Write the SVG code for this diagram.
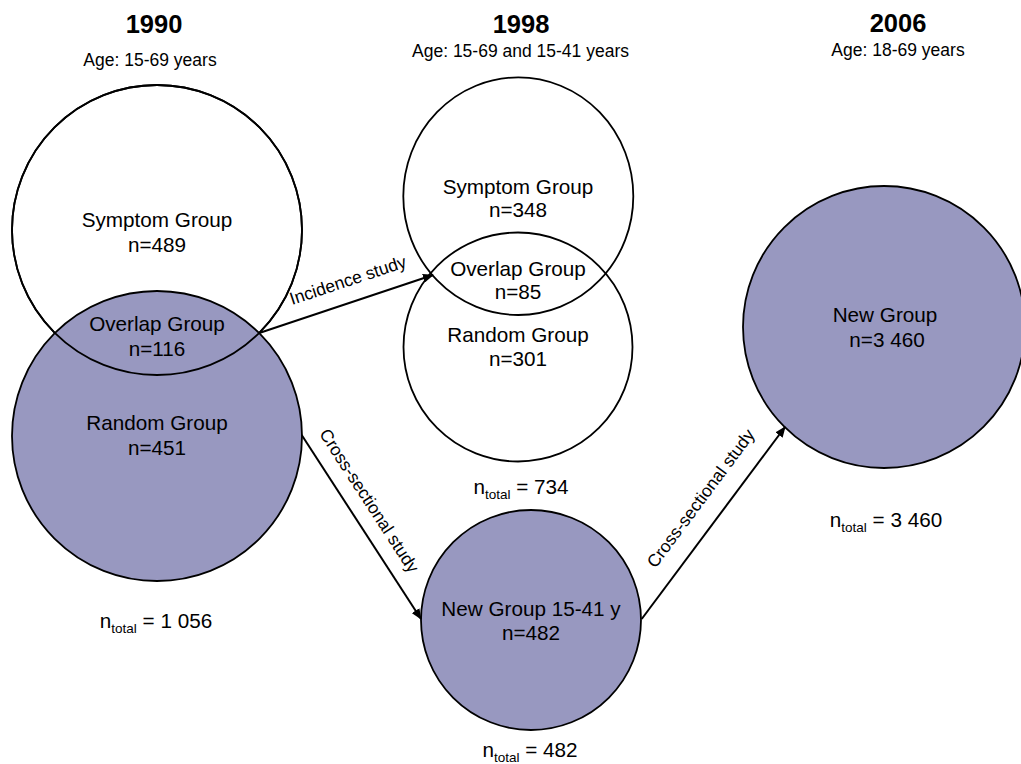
<svg xmlns="http://www.w3.org/2000/svg" width="1021" height="764" viewBox="0 0 1021 764">
<defs>
<style>
text{font-family:"Liberation Sans",Arial,sans-serif;fill:#000}
.yr{font-size:25.5px;font-weight:bold;text-anchor:middle}
.age{font-size:17.5px;text-anchor:middle}
.lbl{font-size:20.7px;text-anchor:middle}
.tot{font-size:20.7px;text-anchor:middle}
.sub{font-size:13.5px}
.conn{font-size:17.5px;text-anchor:middle}
.ring{stroke:#000;stroke-width:1.8}
.white{fill:#fff}
.purple{fill:#9898C0}
.none{fill:none}
.arrow{stroke:#000;stroke-width:2;fill:none;marker-end:url(#ah)}
</style>
<marker id="ah" markerUnits="userSpaceOnUse" markerWidth="11" markerHeight="9" refX="10" refY="4.5" orient="auto">
<path d="M0,0 L11,4.5 L0,9 z" fill="#000"/>
</marker>
</defs>
<rect x="0" y="0" width="1021" height="764" fill="#fff"/>

<g id="headers">
<text class="yr" x="154" y="33">1990</text>
<text class="age" x="150" y="65.5">Age: 15-69 years</text>
<text class="yr" x="521" y="33">1998</text>
<text class="age" x="520.5" y="56.5">Age: 15-69 and 15-41 years</text>
<text class="yr" x="898" y="32">2006</text>
<text class="age" x="898" y="56">Age: 18-69 years</text>
</g>

<g id="node-1990-symptom">
<circle class="ring white" cx="157" cy="230" r="145"/>
<text class="lbl" x="157" y="226.5">Symptom Group</text>
<text class="lbl" x="157" y="251.5">n=489</text>
</g>
<g id="node-1990-random">
<circle class="ring purple" cx="157" cy="436" r="145"/>
<text class="lbl" x="157" y="430">Random Group</text>
<text class="lbl" x="157" y="455">n=451</text>
</g>
<g id="node-1990-overlap">
<circle class="ring none" cx="157" cy="230" r="145"/>
<text class="lbl" x="157" y="331">Overlap Group</text>
<text class="lbl" x="157" y="355.5">n=116</text>
</g>
<g id="node-1990-total">
<text class="tot" x="156" y="628">n<tspan class="sub" dy="5">total</tspan><tspan dy="-5"> = 1 056</tspan></text>
</g>

<g id="node-1998-symptom">
<ellipse class="ring none" cx="518.3" cy="196.2" rx="115" ry="118.8"/>
<text class="lbl" x="518" y="193.5">Symptom Group</text>
<text class="lbl" x="518" y="217">n=348</text>
</g>
<g id="node-1998-random">
<circle class="ring none" cx="518" cy="347" r="114.5"/>
<text class="lbl" x="518" y="342">Random Group</text>
<text class="lbl" x="518" y="366">n=301</text>
</g>
<g id="node-1998-overlap">
<text class="lbl" x="518" y="275.5">Overlap Group</text>
<text class="lbl" x="518" y="299">n=85</text>
</g>
<g id="node-1998-total">
<text class="tot" x="521" y="494">n<tspan class="sub" dy="5">total</tspan><tspan dy="-5"> = 734</tspan></text>
</g>

<g id="node-1998-new">
<circle class="ring purple" cx="531" cy="620" r="110"/>
<text class="lbl" x="531" y="615.5">New Group 15-41 y</text>
<text class="lbl" x="531" y="640">n=482</text>
<text class="tot" x="530" y="757">n<tspan class="sub" dy="5">total</tspan><tspan dy="-5"> = 482</tspan></text>
</g>

<g id="node-2006-new">
<circle class="ring purple" cx="884" cy="327" r="141"/>
<text class="lbl" x="885" y="322">New Group</text>
<text class="lbl" x="887" y="347">n=3 460</text>
<text class="tot" x="886" y="527">n<tspan class="sub" dy="5">total</tspan><tspan dy="-5"> = 3 460</tspan></text>
</g>

<g id="connectors">
<line class="arrow" x1="260" y1="332.7" x2="433" y2="275"/>
<text class="conn" transform="translate(349.8,285.9) rotate(-18.4)">Incidence study</text>
<line class="arrow" x1="301.7" y1="435" x2="421" y2="619"/>
<text class="conn" transform="translate(364.3,504) rotate(57)">Cross-sectional study</text>
<line class="arrow" x1="641.7" y1="619" x2="785" y2="427"/>
<text class="conn" transform="translate(705.4,501.9) rotate(-53.3)">Cross-sectional study</text>
</g>
</svg>
